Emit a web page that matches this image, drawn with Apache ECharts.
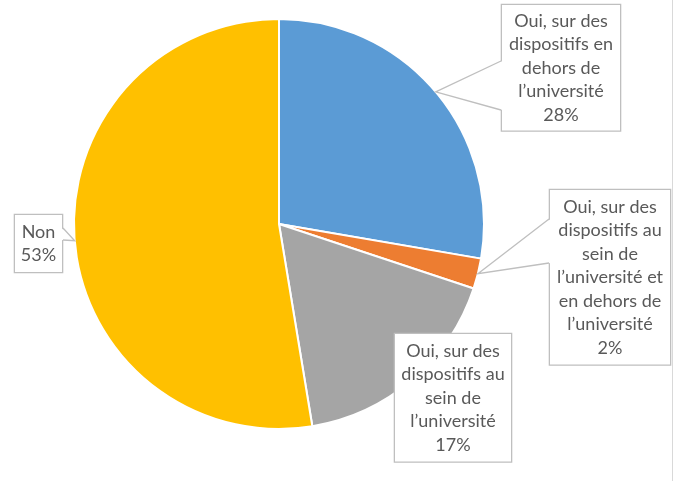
<!DOCTYPE html>
<html>
<head>
<meta charset="utf-8">
<script src="https://cdn.jsdelivr.net/npm/echarts@6/dist/echarts.min.js"></script>
<style>
  html, body { margin: 0; padding: 0; background: #fff; }
  #chart { width: 677px; height: 481px; }
</style>
</head>
<body>
<div id="chart"></div>
<script>
// données
const categories = [
  'Oui, sur des\ndispositifs en\ndehors de\nl’université',
  'Oui, sur des\ndispositifs au\nsein de\nl’université et\nen dehors de\nl’université',
  'Oui, sur des\ndispositifs au\nsein de\nl’université',
  'Non'
]
const values = [27.7, 2.4, 17.3, 52.6]
const colors = ['#5b9bd5', '#ed7d31', '#a5a5a5', '#ffc000']

// mise en page des bulles (x, y, largeur, hauteur, base de la pointe)
const center = [279, 224]
const radius = 205
const boxes = [
  { x: 501, y: 5, w: 120, pad: 4, base: [[501, 61], [501, 110]] },
  { x: 549, y: 190, w: 122, pad: 5, base: [[549, 219], [549, 263]] },
  { x: 394, y: 334, w: 118, pad: 5, base: null },
  { x: 14, y: 215, w: 49, pad: 5, base: [[63, 228], [63, 240]] }
]

const total = values.reduce((a, b) => a + b, 0)

// pointe de chaque bulle : milieu de la part, sur le bord du disque
function tipOf(i) {
  let cum = 0
  for (let k = 0; k < i; k++) cum += values[k]
  const mid = (90 - 360 * (cum + values[i] / 2) / total) * Math.PI / 180
  return [center[0] + radius * Math.cos(mid), center[1] - radius * Math.sin(mid)]
}

const wedges = []
boxes.forEach((b, i) => {
  if (!b.base) return
  const tip = tipOf(i)
  const dir = tip[0] < b.base[0][0] ? 1 : -1
  const p1 = [b.base[0][0] + dir * 1.5, b.base[0][1]]
  const p2 = [b.base[1][0] + dir * 1.5, b.base[1][1]]
  wedges.push({
    type: 'polygon',
    z: 100,
    shape: { points: [p1, tip, p2] },
    style: { fill: '#fff', stroke: null }
  })
  wedges.push({
    type: 'polyline',
    z: 101,
    shape: { points: [b.base[0], tip, b.base[1]] },
    style: { stroke: '#bfbfbf', lineWidth: 1.3, fill: null }
  })
})

const chart = echarts.init(document.getElementById('chart'))
chart.setOption({
  animation: false,
  graphic: [
    {
      type: 'line',
      shape: { x1: 672.5, y1: 0, x2: 672.5, y2: 481 },
      style: { stroke: '#d9d9d9', lineWidth: 1 }
    }
  ].concat(wedges),
  series: [
    {
      type: 'pie',
      center: center,
      radius: radius,
      startAngle: 90,
      clockwise: true,
      silent: true,
      itemStyle: {
        borderColor: '#fff',
        borderWidth: 2
      },
      label: {
        show: true,
        position: 'outside',
        color: '#595959',
        fontFamily: 'Lato',
        fontSize: 18,
        lineHeight: 23.5,
        backgroundColor: '#fff',
        borderColor: '#bfbfbf',
        borderWidth: 1.3,
        formatter: p => p.name + '\n' + Math.round(p.value / total * 100) + '%'
      },
      labelLine: { show: false },
      labelLayout: params => {
        const b = boxes[params.dataIndex]
        return { x: b.x + b.w / 2, y: b.y, align: 'center', verticalAlign: 'top' }
      },
      data: categories.map((name, i) => ({
        name: name,
        value: values[i],
        itemStyle: { color: colors[i] },
        label: { width: boxes[i].w - 2, padding: [boxes[i].pad, 0, boxes[i].pad, 0], align: 'center' }
      }))
    }
  ]
})
</script>
</body>
</html>
